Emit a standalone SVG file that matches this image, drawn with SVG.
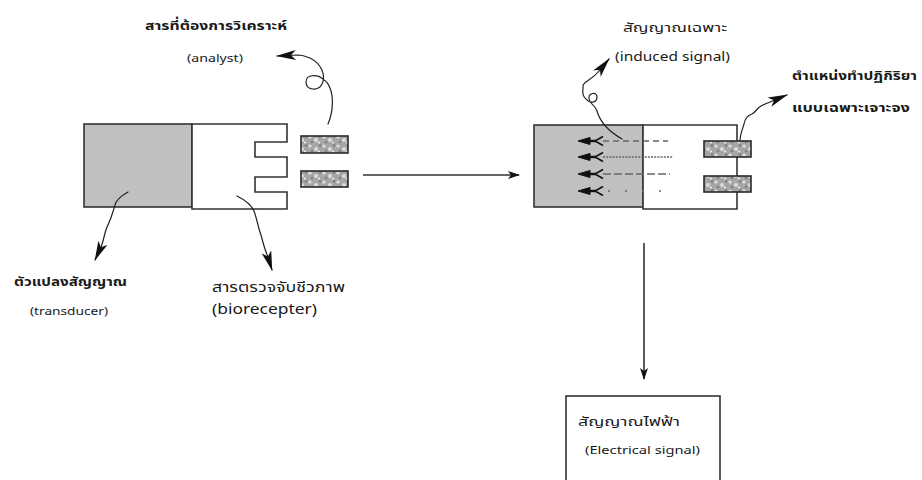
<svg xmlns="http://www.w3.org/2000/svg" width="922" height="480" viewBox="0 0 922 480">
  <style>
    .body { stroke: #333; stroke-width: 1.6; }
    .gray { fill: #c0c0c0; }
    .white { fill: #fff; }
    .pad { fill: url(#speckle); stroke: #2a2a2a; stroke-width: 1.6; }
    .wire { fill: none; stroke: #222; stroke-width: 1.2; stroke-linejoin: round; stroke-linecap: round; }
    .line { fill: none; stroke: #333; stroke-width: 1.6; }
    .lbl { font-family: "Noto Sans Thai", "Noto Sans", "DejaVu Sans", Tahoma, sans-serif; fill: #1a1a1a; }
    .b { font-weight: bold; }
    .dash { fill: none; stroke: #666; stroke-width: 1.3; }
    .ab { fill: #111; stroke: #111; }
  </style>
  <defs>
    <!-- mottled grey fill for the small recognition pads -->
    <pattern id="speckle" width="14" height="9" patternUnits="userSpaceOnUse">
      <rect width="14" height="9" fill="#a6a6a6"/>
      <circle cx="2" cy="2" r="1.6" fill="#e2e2e2"/>
      <circle cx="8" cy="5" r="2" fill="#dcdcdc"/>
      <circle cx="12" cy="1.5" r="1.2" fill="#7a7a7a"/>
      <circle cx="4" cy="7" r="1.3" fill="#808080"/>
      <circle cx="11" cy="7.5" r="1.1" fill="#eee"/>
    </pattern>
    <marker id="head" viewBox="0 0 20 10" refX="19" refY="5" markerWidth="20" markerHeight="10" markerUnits="userSpaceOnUse" orient="auto">
      <path d="M0,0 L20,5 L0,10 L5,5 z" fill="#111"/>
    </marker>
    <marker id="small" viewBox="0 0 12 8" refX="11" refY="4" markerWidth="12" markerHeight="8" markerUnits="userSpaceOnUse" orient="auto">
      <path d="M0,0 L12,4 L0,8 L3,4 z" fill="#111"/>
    </marker>
    <!-- antibody-like receptor glyph, pointing left -->
    <g id="receptor">
      <path d="M-2,0 L10,-3.5 L10,3.5 z" class="ab"/>
      <path d="M6,0 H16" stroke="#111" stroke-width="2.4"/>
      <path d="M23,-4.5 L15,0 L23,4.5" fill="none" stroke="#111" stroke-width="1.6"/>
    </g>
  </defs>

  <!-- sensor before binding -->
  <g id="sensor-left">
    <rect class="body gray" x="84" y="124" width="108" height="83"/>
    <path class="body white" d="M192,124 H287 V142 H255 V157 H287 V177 H255 V192 H287 V209 H192 z"/>
  </g>

  <g id="analyte">
    <rect class="pad" x="301" y="136" width="47" height="17"/>
    <rect class="pad" x="301" y="171" width="47" height="16"/>
  </g>

  <!-- sensor after binding -->
  <g id="sensor-right">
    <rect class="body gray" x="534" y="125" width="109" height="82"/>
    <path class="body white" d="M643,125 H737 V209 H643 z"/>
    <path class="dash" stroke-dasharray="6,4" d="M603,141 H668"/>
    <path class="dash" stroke-dasharray="2,1.2" d="M603,157 H673"/>
    <path class="dash" stroke-dasharray="8,3" d="M603,174 H670"/>
    <path class="dash" stroke-dasharray="2,15" d="M608,191 H664"/>
    <use href="#receptor" x="580" y="141"/>
    <use href="#receptor" x="580" y="157"/>
    <use href="#receptor" x="580" y="174"/>
    <use href="#receptor" x="580" y="191"/>
    <rect class="pad" x="704" y="141" width="47" height="16"/>
    <rect class="pad" x="704" y="176" width="47" height="16"/>
  </g>

  <g id="output-box">
    <rect class="body white" x="566" y="396" width="154" height="100"/>
  </g>

  <g id="connectors">
    <path class="line" marker-end="url(#small)" d="M363,175 H519"/>
    <path class="line" marker-end="url(#small)" d="M644,243 V379"/>
    <!-- analyte pointer with loop -->
    <path class="wire" marker-end="url(#head)" d="M328,124 C334,110 333,95 330,88 C328,83 326,81 324,80 C318,74 306,74 306,82 C306,90 318,92 322,84 C326,76 322,64 310,58 C305,56 302,55 298,55 L277,56"/>
    <!-- induced signal pointer -->
    <path class="wire" marker-end="url(#head)" d="M622,139 C608,131 600,122 597,111 C595,104 590,105 589,99 C588,93 597,91 597,97 C597,103 590,104 586,99 C580,94 584,88 583,85 C586,80 592,80 599,71 L609,59"/>
    <!-- specific binding site pointer -->
    <path class="wire" marker-end="url(#head)" d="M740,141 C740,134 743,128 744,124 C745,118 749,115 752,114 C756,112 757,108 761,106 C765,104 768,103 770,102 L787,95"/>
    <!-- transducer pointer -->
    <path class="wire" marker-end="url(#head)" d="M128,192 C121,196 116,200 115,205 C113,212 111,219 107,227 C104,234 104,240 101,247 L95,260"/>
    <!-- bioreceptor pointer -->
    <path class="wire" marker-end="url(#head)" d="M237,196 C245,200 251,204 254,211 C257,219 258,227 261,235 C263,243 265,250 268,257 L272,270"/>
  </g>

  <g id="labels">
    <text class="lbl b" x="145" y="30" font-size="13" textLength="142" lengthAdjust="spacingAndGlyphs">สารที่ต้องการวิเคราะห์</text>
    <text class="lbl" x="187" y="62" font-size="10" textLength="56" lengthAdjust="spacingAndGlyphs">(analyst)</text>
    <text class="lbl" x="623" y="32" font-size="13" textLength="104" lengthAdjust="spacingAndGlyphs">สัญญาณเฉพาะ</text>
    <text class="lbl" x="615" y="61" font-size="12" textLength="115" lengthAdjust="spacingAndGlyphs">(induced signal)</text>
    <text class="lbl b" x="792" y="80" font-size="13" textLength="125" lengthAdjust="spacingAndGlyphs">ตำแหน่งทำปฏิกิริยา</text>
    <text class="lbl b" x="792" y="112" font-size="13" textLength="118" lengthAdjust="spacingAndGlyphs">แบบเฉพาะเจาะจง</text>
    <text class="lbl b" x="14" y="286" font-size="13" textLength="113" lengthAdjust="spacingAndGlyphs">ตัวแปลงสัญญาณ</text>
    <text class="lbl" x="30" y="315" font-size="10" textLength="78" lengthAdjust="spacingAndGlyphs">(transducer)</text>
    <text class="lbl" x="212" y="292" font-size="14" textLength="133" lengthAdjust="spacingAndGlyphs">สารตรวจจับชีวภาพ</text>
    <text class="lbl" x="212" y="314" font-size="14" textLength="105" lengthAdjust="spacingAndGlyphs">(biorecepter)</text>
    <text class="lbl" x="578" y="426" font-size="13" textLength="102" lengthAdjust="spacingAndGlyphs">สัญญาณไฟฟ้า</text>
    <text class="lbl" x="585" y="454" font-size="11" textLength="115" lengthAdjust="spacingAndGlyphs">(Electrical signal)</text>
  </g>
</svg>
